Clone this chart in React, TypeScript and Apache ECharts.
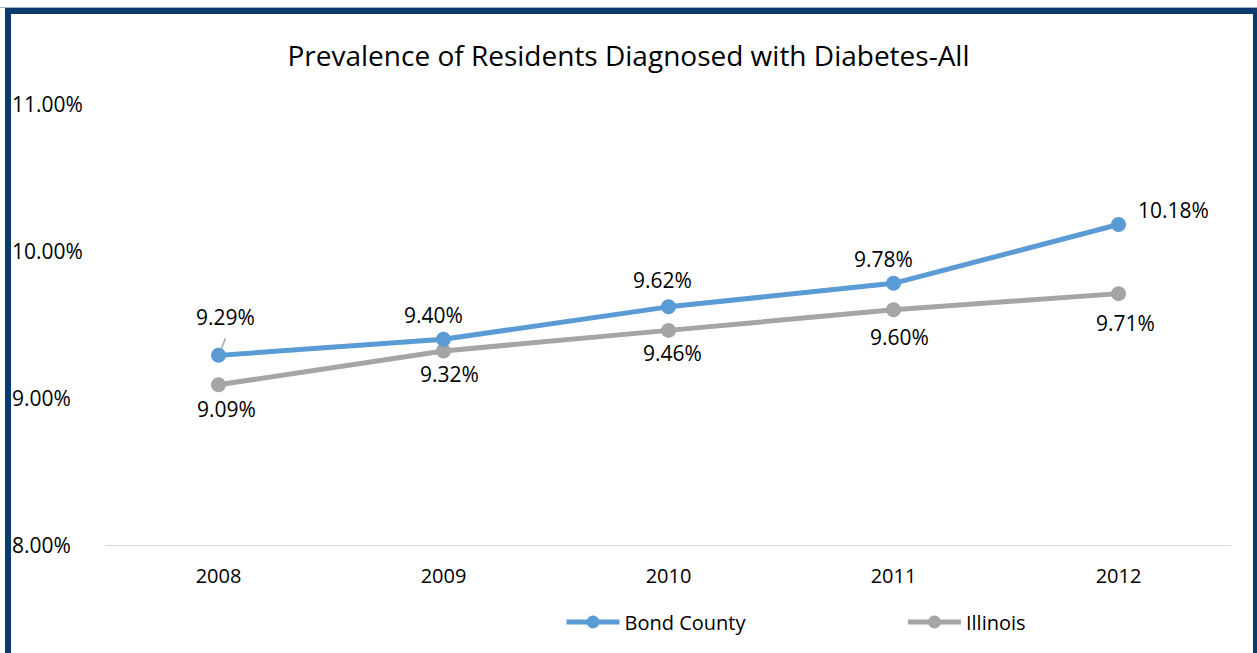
import React, { useEffect, useRef } from "react";
import * as echarts from "echarts";

const years = ["2008", "2009", "2010", "2011", "2012"];
const bondCounty = [9.29, 9.40, 9.62, 9.78, 10.18];
const illinois = [9.09, 9.32, 9.46, 9.60, 9.71];

// label placement (styling only)
const bondLabelPos = ["top", "top", "top", "top", "right"];
const bondLabelOffset = [[7, -14], [-10, 0], [-6, -3], [-10, 0], [0, -15]];
const illinoisLabelOffset = [[8, 0], [6, -1], [4, -1], [6, 3], [7, 5]];

const FONT = "Open Sans";

export default function App() {
  const ref = useRef<HTMLDivElement>(null);
  useEffect(() => {
    if (!ref.current) return;
    const chart = echarts.init(ref.current, undefined, { renderer: "svg" });
    const fmt = (p: any) => Number(p.value).toFixed(2) + "%";
    chart.setOption({
      animation: false,
      backgroundColor: "#ffffff",
      textStyle: { fontFamily: FONT },
      title: {
        text: "Prevalence of Residents Diagnosed with Diabetes-All",
        left: "center",
        top: 36,
        textStyle: { fontFamily: FONT, fontSize: 28, fontWeight: "normal", color: "#000000" },
      },
      graphic: [
        { type: "rect", shape: { x: 0, y: 7, width: 1257, height: 1 }, style: { fill: "#9fb3c8" } },
        { type: "rect", shape: { x: 5, y: 8, width: 1252, height: 6 }, style: { fill: "#0b3a6e" } },
        { type: "rect", shape: { x: 5, y: 8, width: 6, height: 645 }, style: { fill: "#0b3a6e" } },
        { type: "rect", shape: { x: 1253, y: 8, width: 4, height: 645 }, style: { fill: "#0b3a6e" } },
      ],
      legend: {
        top: 607,
        left: 559,
        itemGap: 160,
        itemWidth: 53,
        itemHeight: 16,
        lineStyle: { width: 5 },
        textStyle: { fontFamily: FONT, fontSize: 20, color: "#000000" },
        data: ["Bond County", "Illinois"],
      },
      grid: { left: 106, right: 26, top: 104, bottom: 108 },
      xAxis: {
        type: "category",
        data: years,
        boundaryGap: true,
        axisLine: { show: true, lineStyle: { color: "#d9d9d9", width: 1 } },
        axisTick: { show: false },
        axisLabel: { fontFamily: FONT, fontSize: 20, color: "#000000", margin: 20 },
      },
      yAxis: {
        type: "value",
        min: 8,
        max: 11,
        interval: 1,
        splitLine: { show: false },
        axisLine: { show: false },
        axisTick: { show: false },
        axisLabel: {
          fontFamily: FONT,
          fontSize: 21,
          color: "#000000",
          align: "left",
          margin: 94,
          formatter: (v: number) => v.toFixed(2) + "%",
        },
      },
      series: [
        {
          name: "Bond County",
          type: "line",
          data: bondCounty.map((v, i) => ({
            value: v,
            label: {
              position: bondLabelPos[i],
              distance: bondLabelPos[i] === "right" ? 12 : 6,
              offset: bondLabelOffset[i],
            },
            ...(i === 0
              ? { labelLine: { show: true, lineStyle: { color: "#a6a6a6", width: 1.5 } } }
              : {}),
          })),
          color: "#5b9bd5",
          lineStyle: { width: 5, color: "#5b9bd5" },
          symbol: "circle",
          symbolSize: 15,
          z: 3,
          label: {
            show: true,
            fontFamily: FONT,
            fontSize: 21,
            color: "#000000",
            formatter: fmt,
          },
        },
        {
          name: "Illinois",
          type: "line",
          data: illinois.map((v, i) => ({
            value: v,
            label: { offset: illinoisLabelOffset[i] },
          })),
          color: "#a5a5a5",
          lineStyle: { width: 5, color: "#a5a5a5" },
          symbol: "circle",
          symbolSize: 15,
          z: 2,
          label: {
            show: true,
            position: "bottom",
            distance: 6,
            fontFamily: FONT,
            fontSize: 21,
            color: "#000000",
            formatter: fmt,
          },
        },
      ],
    });
    return () => chart.dispose();
  }, []);
  return (
    <div
      ref={ref}
      style={{ position: "fixed", left: 0, top: 0, width: 1257, height: 653 }}
    />
  );
}
